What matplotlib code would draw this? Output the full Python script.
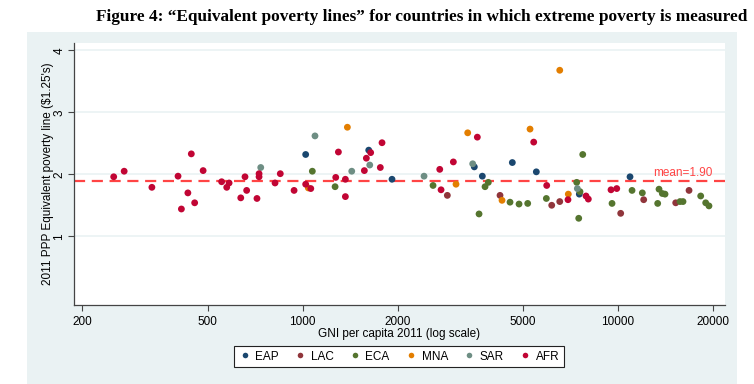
import matplotlib.pyplot as plt
from matplotlib.patches import Rectangle
from matplotlib.lines import Line2D

plt.rcParams['font.family'] = ['Liberation Sans', 'DejaVu Sans']

# GNI per capita (x) and equivalent poverty line (y), by region
eap_x = [1023, 1621, 1921, 3503, 3714, 4623, 5508, 7538, 10914]
eap_y = [2.32, 2.39, 1.92, 2.12, 1.97, 2.19, 2.04, 1.68, 1.96]

lac_x = [2877, 4226, 6163, 6535, 10196, 12060, 15234, 16790]
lac_y = [1.66, 1.66, 1.50, 1.56, 1.37, 1.59, 1.54, 1.74]

eca_x = [1074, 1268, 2592, 3626, 3788, 3880, 4546, 4855, 5172, 5926, 7396, 7506,
         7576, 7729, 9571, 11076, 11940, 13356, 13486, 13816, 14092, 15720, 16068,
         18282, 18961, 19420]
eca_y = [2.05, 1.80, 1.82, 1.36, 1.80, 1.87, 1.55, 1.52, 1.53, 1.61, 1.87, 1.29,
         1.72, 2.32, 1.53, 1.74, 1.70, 1.53, 1.76, 1.69, 1.68, 1.56, 1.56,
         1.65, 1.54, 1.49]

mna_x = [1043, 1387, 3065, 3338, 4288, 5261, 6535, 6956]
mna_y = [1.78, 2.76, 1.84, 2.67, 1.58, 2.73, 3.68, 1.68]

sar_x = [737, 1095, 1432, 1633, 2427, 3462, 7430]
sar_y = [2.11, 2.62, 2.05, 2.15, 1.97, 2.17, 1.77]

afr_x = [252, 272, 333, 403, 413, 433, 444, 455, 484, 554, 575, 585, 637, 657,
         665, 717, 728, 728, 818, 850, 940, 1023, 1062, 1274, 1299, 1367, 1367,
         1570, 1593, 1644, 1764, 1786, 2722, 2748, 3006, 3581, 5404, 5942, 6940,
         7916, 8050, 9500, 9906]
afr_y = [1.96, 2.05, 1.79, 1.97, 1.44, 1.70, 2.33, 1.54, 2.06, 1.88, 1.79, 1.86,
         1.62, 1.96, 1.74, 1.61, 2.01, 1.96, 1.86, 2.01, 1.74, 1.84, 1.77, 1.95,
         2.36, 1.64, 1.92, 2.06, 2.26, 2.35, 2.11, 2.51, 2.08, 1.75, 2.20, 2.60,
         2.52, 1.82, 1.59, 1.65, 1.60, 1.75, 1.77]

mean_line = 1.90
x_ticks = [200, 500, 1000, 2000, 5000, 10000, 20000]
y_ticks = [1, 2, 3, 4]

series = [
    ('EAP', eap_x, eap_y, '#1a476f'),
    ('LAC', lac_x, lac_y, '#90353b'),
    ('ECA', eca_x, eca_y, '#55752f'),
    ('MNA', mna_x, mna_y, '#e37e00'),
    ('SAR', sar_x, sar_y, '#6e8e84'),
    ('AFR', afr_x, afr_y, '#c10534'),
]

fig = plt.figure(figsize=(7.54, 3.84), dpi=100)
# light Stata-style graph region, behind everything
fig.patches.append(Rectangle((27 / 754, 0), 710 / 754, 352 / 384,
                             transform=fig.transFigure, facecolor='#eaf2f3',
                             edgecolor='none', zorder=-10))

fig.text(422 / 754, 1 - 17 / 384,
         'Figure 4: \u201cEquivalent poverty lines\u201d for countries in which extreme poverty is measured',
         ha='center', va='center', fontsize=12.4, fontweight='bold',
         family='Liberation Serif')

ax = fig.add_axes([74 / 754, 79 / 384, 651 / 754, 262 / 384])
ax.set_facecolor('white')

for name, xs, ys, col in series:
    ax.scatter(xs, ys, s=24, color=col, edgecolors='none', label=name, zorder=3)

ax.axhline(mean_line, color='#ff4444', linestyle=(0, (5, 3)), linewidth=1.6, zorder=2)
ax.text(20000, mean_line + 0.02, 'mean=%.2f' % mean_line, color='#ff4444',
        ha='right', va='bottom', fontsize=8.5)

ax.set_xscale('log')
ax.set_xlim(188.6, 21830)
ax.set_ylim(-0.11, 4.12)
ax.set_xticks(x_ticks)
ax.set_xticklabels([str(t) for t in x_ticks])
ax.minorticks_off()
ax.set_yticks(y_ticks)
ax.set_yticklabels([str(t) for t in y_ticks], rotation=90, va='center')
ax.grid(axis='y', color='#eaf2f3', linewidth=1.2, zorder=0)
ax.set_axisbelow(True)

for s in ['top', 'right']:
    ax.spines[s].set_visible(False)
for s in ['left', 'bottom']:
    ax.spines[s].set_color('#444444')
    ax.spines[s].set_linewidth(0.9)
ax.tick_params(colors='#444444', labelcolor='black', labelsize=8.5, length=4.3, width=0.8)
ax.tick_params(axis='y', pad=2)

ax.set_xlabel('GNI per capita 2011 (log scale)', fontsize=8.5, labelpad=0)
ax.set_ylabel("2011 PPP Equivalent poverty line (\\$1.25's)", fontsize=8.5)
ax.yaxis.set_label_coords(-0.031, 0.5)

handles = [Line2D([], [], marker='o', linestyle='none', markersize=4,
                  markerfacecolor=c, markeredgecolor='none', label=n)
           for n, _, _, c in series]
leg = fig.legend(handles=handles, ncol=6, loc='center',
                 bbox_to_anchor=(399 / 754, 1 - 356.5 / 384), fontsize=8.5,
                 frameon=True, fancybox=False, handletextpad=0.4, columnspacing=1.3,
                 borderpad=0.35, handlelength=1.0, framealpha=1)
leg.get_frame().set_facecolor('white')
leg.get_frame().set_edgecolor('#222222')
leg.get_frame().set_linewidth(0.8)

fig.savefig('out.png', dpi=100)
